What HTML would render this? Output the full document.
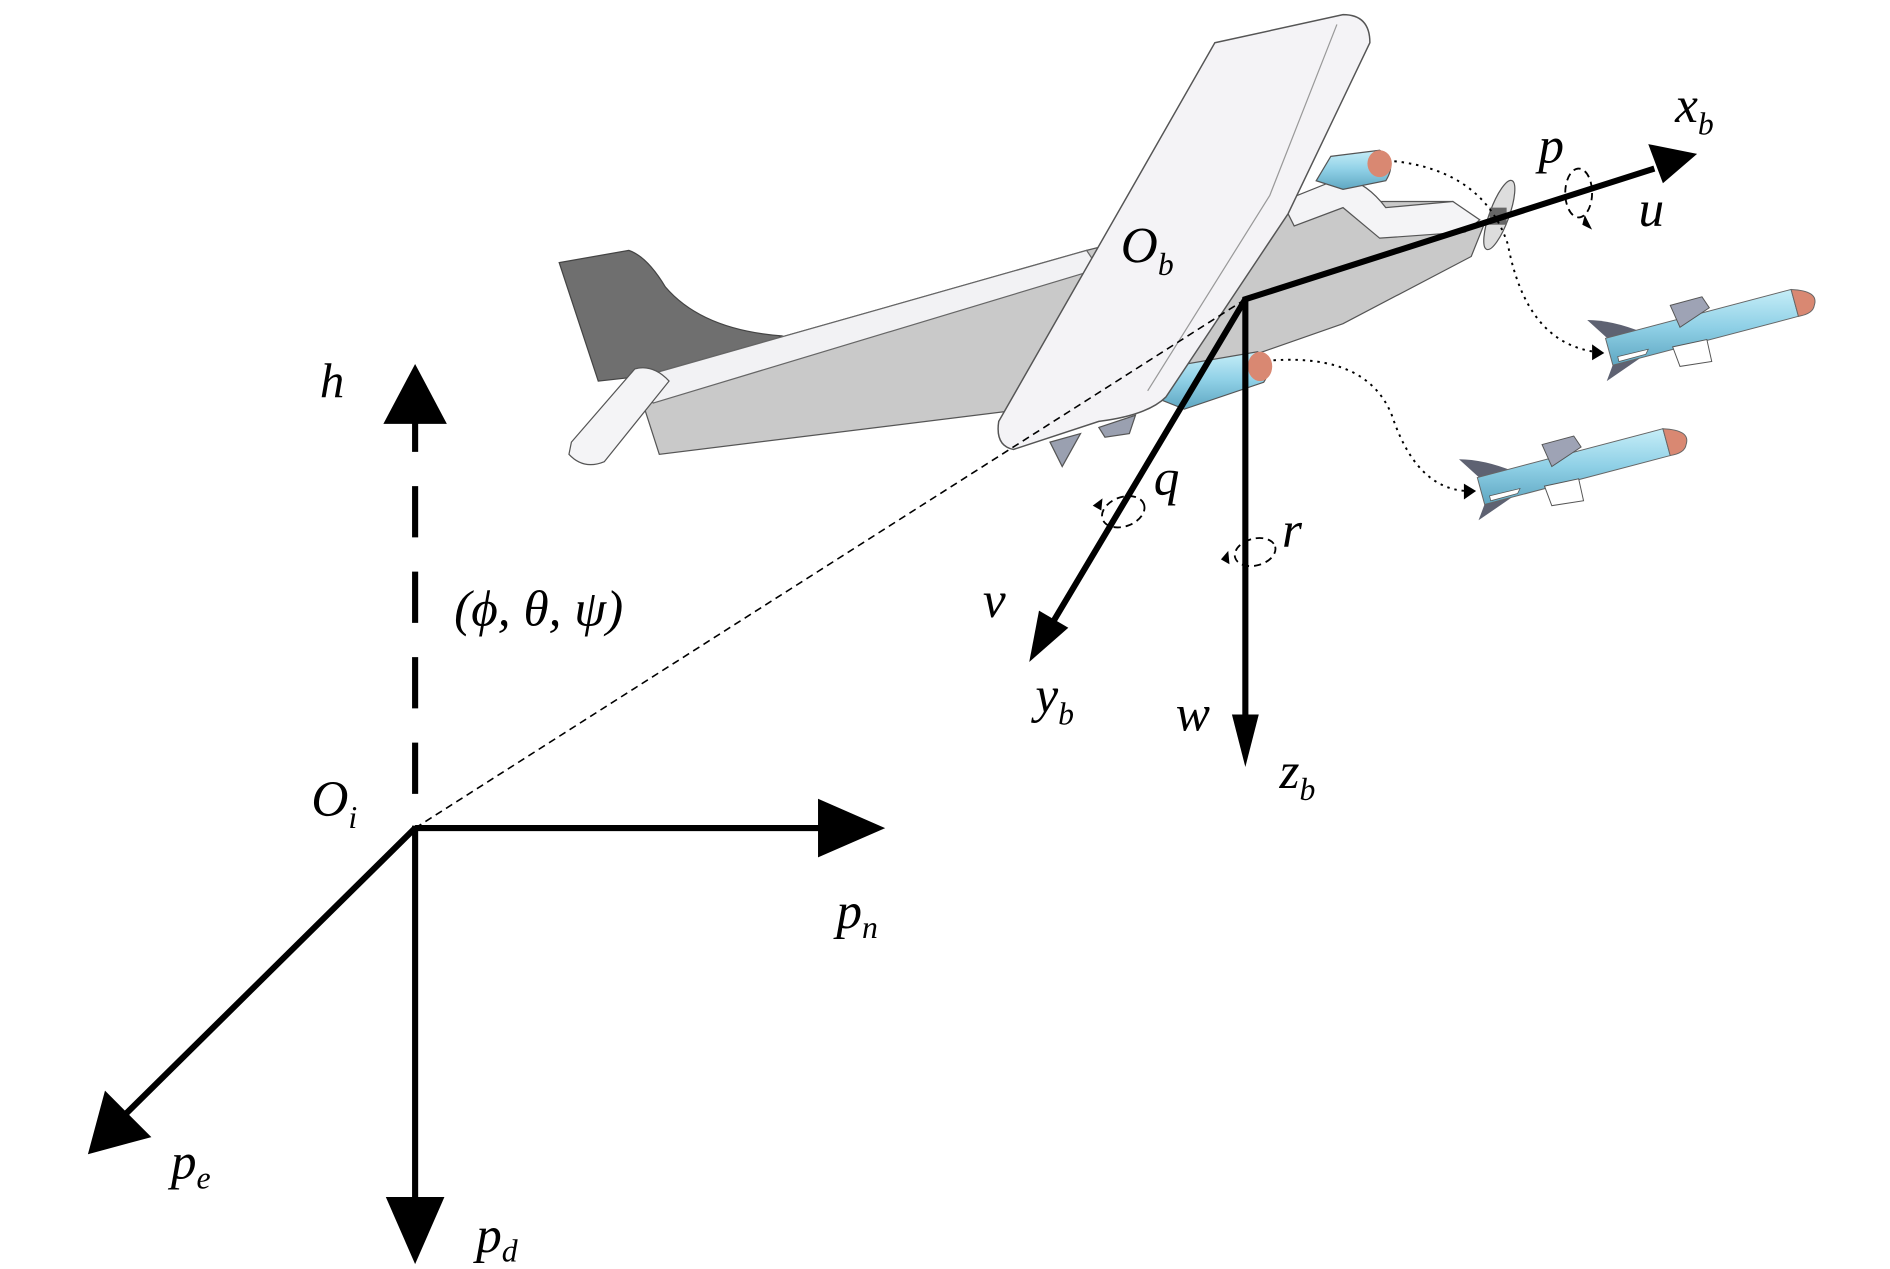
<!DOCTYPE html>
<html><head><meta charset="utf-8"><style>
html,body{margin:0;padding:0;background:#fff;}
svg{display:block;}
text{font-family:"Liberation Serif",serif;font-style:italic;fill:#000;}
</style></head><body>
<svg width="1890" height="1269" viewBox="0 0 1548 1039" preserveAspectRatio="none" xmlns="http://www.w3.org/2000/svg">
<defs>
<linearGradient id="mb" x1="0" y1="0" x2="0" y2="1"><stop offset="0" stop-color="#c6eef8"/><stop offset="0.5" stop-color="#8fd0e6"/><stop offset="1" stop-color="#5fa7c2"/></linearGradient>
<g id="missile">
<path d="M1300,262 Q1320,262 1345,272 L1322,282 Z" fill="#5e6272"/>
<path d="M1322,296 L1348,290 L1316,312 Z" fill="#5e6272"/>
<path d="M1315,277 L1467,237 L1473,259 L1321,299 Z" fill="url(#mb)" stroke="#666" stroke-width="0.8"/>
<path d="M1467,237 Q1490,238 1486,250 Q1485,257 1473,259 Z" fill="#d98872" stroke="#666" stroke-width="0.8"/>
<path d="M1368,250 L1394,243 L1400,252 L1376,268 Z" fill="#9ea3b5" stroke="#555" stroke-width="0.8"/>
<path d="M1370,284 L1398,278 L1402,296 L1376,300 Z" fill="#fff" stroke="#555" stroke-width="0.8"/>
<path d="M1325,292 L1350,286 L1348,290 L1326,296 Z" fill="#fff" stroke="#555" stroke-width="0.6"/>
</g>
</defs>
<!-- vertical tail -->
<path d="M458,215 L515,205 Q530,210 545,235 Q575,270 640,275 L600,300 L490,312 Z" fill="#6f6f6f" stroke="#444" stroke-width="1"/>
<!-- fuselage -->
<path d="M520,310 L890,205 L1050,165 L1190,165 L1215,185 L1205,210 L1100,265 L1000,300 L880,330 L540,372 Z" fill="#c9c9c9" stroke="#555" stroke-width="1"/>
<path d="M520,310 L890,205 L900,220 L535,330 Z" fill="#f2f2f4" stroke="#666" stroke-width="1"/>
<path d="M1050,165 L1100,145 Q1120,150 1135,170 L1190,165 L1212,180 L1200,190 L1130,195 L1100,170 L1060,185 Z" fill="#f4f4f6" stroke="#555" stroke-width="1"/>
<!-- horizontal stabilizer -->
<path d="M468,362 L520,302 Q535,298 548,312 L495,378 Q478,385 466,372 Z" fill="#f4f4f6" stroke="#555" stroke-width="1"/>
<!-- engine pods -->
<path d="M1078,148 L1090,128 L1130,123 Q1145,132 1135,148 L1100,155 Z" fill="url(#mb)" stroke="#555" stroke-width="1"/>
<ellipse cx="1130" cy="134" rx="10" ry="11" fill="#d98872"/>
<path d="M945,325 L960,300 L1030,288 Q1045,298 1035,313 L970,335 Z" fill="url(#mb)" stroke="#555" stroke-width="1"/>
<ellipse cx="1032" cy="300" rx="10" ry="12" fill="#d98872"/>
<!-- wing -->
<path d="M995,35 L1100,12 Q1122,12 1122,35 L1055,175 L955,325 Q940,340 900,345 L830,368 Q815,365 818,345 Z" fill="#f4f3f6" stroke="#555" stroke-width="1.2"/>
<path d="M1095,20 L1040,160 L940,320" fill="none" stroke="#999" stroke-width="1"/>
<path d="M860,362 L885,355 L870,382 Z M900,350 L930,340 L925,355 L905,358 Z" fill="#9aa0b0" stroke="#555"/>
<!-- propeller -->
<ellipse cx="1228" cy="176" rx="8" ry="30" transform="rotate(20 1228 176)" fill="#ddd" stroke="#555"/>
<rect x="1220" y="170" width="14" height="14" fill="#666"/>
<!-- missiles -->
<use href="#missile"/>
<use href="#missile" transform="translate(-105,114)"/>
<!-- dotted trajectories -->
<path d="M1142,132 Q1215,140 1235,200 Q1250,280 1306,288" fill="none" stroke="#000" stroke-width="1.6" stroke-dasharray="2,4"/>
<path d="M1304,282 L1314,289 L1304,295 Z" fill="#000"/>
<path d="M1043,295 Q1120,290 1140,340 Q1160,400 1201,402" fill="none" stroke="#000" stroke-width="1.6" stroke-dasharray="2,4"/>
<path d="M1199,396 L1209,402 L1199,409 Z" fill="#000"/>
<!-- thin dashed line -->
<line x1="340" y1="678" x2="1020" y2="245" stroke="#000" stroke-width="1.3" stroke-dasharray="6,4"/>
<!-- inertial frame -->
<line x1="340" y1="650" x2="340" y2="345" stroke="#000" stroke-width="5" stroke-dasharray="42,28"/>
<path d="M340,298 L366,347 L314,347 Z" fill="#000"/>
<line x1="340" y1="678" x2="675" y2="678" stroke="#000" stroke-width="5"/>
<path d="M725,678 L670,654 L670,702 Z" fill="#000"/>
<line x1="340" y1="676" x2="340" y2="985" stroke="#000" stroke-width="5"/>
<path d="M340,1035 L316,980 L364,980 Z" fill="#000"/>
<line x1="340" y1="678" x2="100" y2="915" stroke="#000" stroke-width="5"/>
<path d="M72,945 L86,893 L124,931 Z" fill="#000"/>
<!-- body frame -->
<polyline points="1355,138 1020,245 1020,590" fill="none" stroke="#000" stroke-width="5"/>
<path d="M1390,126 L1350,118 L1362,150 Z" fill="#000"/>
<path d="M1020,628 L1009,585 L1031,585 Z" fill="#000"/>
<line x1="1020" y1="245" x2="862" y2="510" stroke="#000" stroke-width="5"/>
<path d="M843,542 L851,500 L875,514 Z" fill="#000"/>
<!-- rotation markers -->
<ellipse cx="1293" cy="158" rx="11" ry="20" fill="none" stroke="#000" stroke-width="1.5" stroke-dasharray="6,4"/>
<path d="M1298,176 L1304,188 L1296,184 Z" fill="#000"/>
<ellipse cx="920" cy="419" rx="18" ry="12" transform="rotate(-20 920 419)" fill="none" stroke="#000" stroke-width="1.5" stroke-dasharray="6,4"/>
<path d="M895,414 L903,408 L902,418 Z" fill="#000"/>
<ellipse cx="1028" cy="452" rx="17" ry="11" transform="rotate(-15 1028 452)" fill="none" stroke="#000" stroke-width="1.5" stroke-dasharray="6,4"/>
<path d="M1000,458 L1006,451 L1007,462 Z" fill="#000"/>
<!-- labels -->
<text x="262" y="325" font-size="40">h</text>
<text x="372" y="512" font-size="42" font-style="normal">(<tspan font-style="italic">ϕ</tspan>, <tspan font-style="italic">θ</tspan>, <tspan font-style="italic">ψ</tspan>)</text>
<text x="255" y="668" font-size="42">O<tspan font-size="26" dy="10">i</tspan></text>
<text x="685" y="760" font-size="42">p<tspan font-size="26" dy="8">n</tspan></text>
<text x="140" y="965" font-size="42">p<tspan font-size="26" dy="8">e</tspan></text>
<text x="390" y="1025" font-size="42">p<tspan font-size="26" dy="8">d</tspan></text>
<text x="918" y="215" font-size="42">O<tspan font-size="26" dy="10">b</tspan></text>
<text x="1372" y="100" font-size="42">x<tspan font-size="26" dy="10">b</tspan></text>
<text x="1260" y="133" font-size="42">p</text>
<text x="1342" y="185" font-size="42">u</text>
<text x="805" y="505" font-size="42">v</text>
<text x="848" y="583" font-size="42">y<tspan font-size="26" dy="10">b</tspan></text>
<text x="963" y="598" font-size="42">w</text>
<text x="1048" y="645" font-size="42">z<tspan font-size="26" dy="10">b</tspan></text>
<text x="945" y="405" font-size="42">q</text>
<text x="1050" y="448" font-size="42">r</text>
</svg>
</body></html>
